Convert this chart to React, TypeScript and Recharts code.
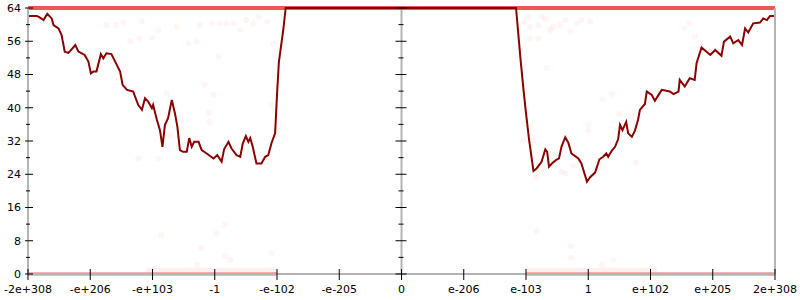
import React from 'react';
import { ComposedChart, Line, Scatter, XAxis, YAxis, ReferenceLine } from 'recharts';

// tick positions on the x axis (evenly spaced) and their labels
const xTicks = [-6, -5, -4, -3, -2, -1, 0, 1, 2, 3, 4, 5, 6];
const xLabels = ['-2e+308', '-e+206', '-e+103', '-1', '-e-102', '-e-205', '0', 'e-206', 'e-103', '1', 'e+102', 'e+205', '2e+308'];
const yTicks = [0, 4, 8, 12, 16, 20, 24, 28, 32, 36, 40, 44, 48, 52, 56, 60, 64];

// main curve
const curveX = [
  -6.0, -5.86, -5.82, -5.75, -5.69, -5.62, -5.59, -5.51, -5.46, -5.41, -5.35, -5.24, -5.19, -5.09, -5.03,
  -4.99, -4.95, -4.9, -4.83, -4.79, -4.74, -4.66, -4.6, -4.52, -4.48, -4.41, -4.31, -4.23, -4.17, -4.12,
  -4.07, -4.01, -3.99, -3.93, -3.88, -3.84, -3.8, -3.75, -3.69, -3.64, -3.6, -3.56, -3.51, -3.45, -3.41,
  -3.37, -3.33, -3.26, -3.21, -3.13, -3.02, -2.96, -2.89, -2.85, -2.78, -2.73, -2.65, -2.59, -2.55, -2.5,
  -2.46, -2.43, -2.39, -2.33, -2.25, -2.19, -2.14, -2.09, -2.03, -2.0, -1.97, -1.9, -1.86,
  1.84, 1.91, 1.96, 2.0, 2.05, 2.12, 2.17, 2.25, 2.31, 2.34, 2.37, 2.43, 2.48, 2.53, 2.57, 2.63, 2.68,
  2.73, 2.84, 2.89, 2.98, 3.03, 3.11, 3.18, 3.24, 3.29, 3.32, 3.38, 3.43, 3.48, 3.51, 3.55, 3.61, 3.64,
  3.7, 3.75, 3.8, 3.83, 3.91, 3.94, 4.02, 4.07, 4.13, 4.18, 4.31, 4.37, 4.45, 4.47, 4.55, 4.63, 4.71,
  4.74, 4.82, 4.9, 4.96, 5.04, 5.14, 5.18, 5.28, 5.33, 5.41, 5.47, 5.52, 5.57, 5.65, 5.76, 5.81, 5.87,
  5.92, 5.99,
];
const curveY = [
  62.1, 62.1, 61.8, 61.1, 62.6, 61.5, 59.9, 59.1, 57.5, 53.5, 53.2, 55.1, 53.5, 52.7, 51.1,
  48.3, 48.7, 48.7, 52.9, 51.9, 53.1, 52.9, 51.1, 48.7, 45.5, 44.3, 43.9, 40.7, 39.5, 42.3,
  41.5, 39.9, 40.7, 37.1, 34.6, 30.6, 35.9, 37.5, 41.9, 38.7, 35.4, 29.8, 29.4, 29.4, 32.7,
  30.6, 31.8, 31.8, 29.8, 29.0, 27.8, 28.6, 27.0, 30.0, 31.8, 30.2, 28.6, 28.2, 31.4, 33.2,
  31.8, 32.7, 30.6, 26.6, 26.6, 28.2, 28.6, 31.4, 33.9, 43.1, 51.0, 58.7, 64,
  64, 52.0, 44.3, 38.7, 32.2, 24.8, 25.4, 27.0, 30.0, 29.4, 25.8, 26.8, 27.4, 27.8, 30.6, 32.9, 31.6,
  29.0, 27.8, 26.6, 22.2, 23.3, 24.4, 27.6, 28.2, 29.0, 28.2, 29.7, 30.6, 32.4, 35.9, 34.6, 36.6, 33.9,
  33.0, 34.5, 37.1, 39.5, 40.9, 43.9, 43.1, 41.7, 43.1, 44.3, 43.9, 43.3, 43.9, 46.7, 45.1, 47.1, 46.7,
  50.7, 54.5, 53.5, 52.7, 53.9, 52.5, 55.9, 57.1, 55.5, 56.3, 55.1, 59.1, 58.1, 60.3, 60.5, 61.5, 61.1,
  62.1, 62.1,
];

// faint sample points
const dotsX = [
  -4.74, -4.58, -4.47, -4.36, -4.21, -4.17, -4.01, -3.91, -3.77, -3.61, -3.42, -3.29, -3.24, -3.16, -3.05,
  -3.02, -2.94, -2.92, -2.81, -2.7, -2.59, -2.49, -2.38, -2.3, -2.16, -2.06, -4.23, -3.08, -3.91, -3.71,
  -3.1, -2.09, 2.04, 1.98, 2.06, 2.2, 2.25, 2.31, 2.39, 2.44, 2.55, 2.63, 2.71, 2.81, 2.89, 3.03, 2.06,
  2.2, 2.33, 4.63, 4.55, 4.71, 1.96, 1.96, 2.1, 2.17, 2.28, 2.57, 2.63, 2.76, 3.0, 3.0, 3.23, 3.38, 3.5,
  3.7, 3.77, 2.17, 2.72, 2.73, 3.4, 3.22, -3.86, -3.22, -2.97, -2.84, -2.84, -2.75, -3.28, -2.09,
];
const dotsY = [
  59.9, 59.9, 60.5, 55.9, 56.7, 60.7, 56.7, 58.7, 43.5, 59.5, 55.5, 55.9, 59.9, 45.5, 60.3,
  43.1, 52.3, 60.3, 60.3, 60.3, 58.7, 61.1, 60.3, 61.9, 60.7, 55.5, 27.8, 36.6, 27.8, 33.4,
  38.8, 40.7, 61.9, 60.7, 59.5, 59.9, 61.9, 61.5, 58.7, 59.5, 59.9, 61.1, 58.3, 60.3, 61.1, 60.7, 56.7,
  56.7, 49.5, 60.3, 59.1, 57.1, 36.3, 32.2, 32.2, 23.4, 25.4, 24.6, 24.2, 26.0, 35.9, 34.5, 42.0, 43.3, 38.5,
  37.9, 26.8, 10.2, 6.7, 3.9, 3.4, 2.2, 9.4, 6.2, 9.8, 11.8, 4.3, 3.4, 2.2, 5.0,
];

// dense bands of samples at the extremes
const topBandX = [-6, 6];
const bottomLeftX = [-6, -2];
const bottomRightX = [2, 6];
// denser haze just above the bottom band
const hazeLeftX = [-4.1, -2];
const hazeRightX = [2, 4.1];

const curve = curveX.map((x, i) => ({ x, y: curveY[i] }));
const dots = dotsX.map((x, i) => ({ x, y: dotsY[i] }));
const topBand = topBandX.map((x) => ({ x, y: 64 }));
const bottomLeft = bottomLeftX.map((x) => ({ x, y: 0 }));
const bottomRight = bottomRightX.map((x) => ({ x, y: 0 }));
const hazeLeft = hazeLeftX.map((x) => ({ x, y: 0.9 }));
const hazeRight = hazeRightX.map((x) => ({ x, y: 0.9 }));
const midMajor = yTicks.filter((v) => v % 8 === 0).map((y) => ({ x: 0, y }));
const midMinor = yTicks.filter((v) => v % 8 !== 0).map((y) => ({ x: 0, y }));

const FONT = '"DejaVu Sans", sans-serif';
const AXIS = '#b4b4b4';

const XTick = (props: any) => {
  const { x, y, payload } = props;
  const label = xLabels[xTicks.indexOf(payload.value)];
  return (
    <g>
      <line x1={x} x2={x} y1={y - 5} y2={y + 6} stroke="#000" strokeWidth={1} />
      <text x={x} y={y + 19} textAnchor="middle" fontSize={11} fontFamily={FONT} fill="#000">
        {label}
      </text>
    </g>
  );
};

const LeftTick = (props: any) => {
  const { x, y, payload } = props;
  const major = payload.value % 8 === 0;
  return (
    <g>
      <line x1={major ? x - 3 : x - 2} x2={major ? x + 5 : x + 2} y1={y} y2={y} stroke="#000" strokeWidth={1} />
      {major && (
        <text x={x - 7} y={y} dy="0.36em" textAnchor="end" fontSize={11} fontFamily={FONT} fill="#000">
          {payload.value}
        </text>
      )}
    </g>
  );
};

const RightTick = (props: any) => {
  const { x, y, payload } = props;
  const major = payload.value % 8 === 0;
  return <line x1={major ? x - 5 : x - 3} x2={major ? x + 5 : x + 2} y1={y} y2={y} stroke="#000" strokeWidth={1} />;
};

const MidMajor = (props: any) => (
  <line x1={props.cx - 6} x2={props.cx + 5} y1={props.cy} y2={props.cy} stroke="#000" strokeWidth={1} />
);
const MidMinor = (props: any) => (
  <line x1={props.cx - 3} x2={props.cx + 2} y1={props.cy} y2={props.cy} stroke="#000" strokeWidth={1} />
);
const FaintDot = (props: any) => <circle cx={props.cx} cy={props.cy} r={3} fill="#ff2020" fillOpacity={0.045} />;

export default function App() {
  return (
    <div style={{ position: 'absolute', left: 0, top: 0, background: '#fff' }}>
      <ComposedChart width={800} height={300} margin={{ top: 8, right: 0, bottom: 0, left: 0 }}>
        <XAxis
          type="number"
          dataKey="x"
          domain={[-6, 6]}
          ticks={xTicks}
          interval={0}
          height={26}
          tickSize={0}
          tickMargin={0}
          tickLine={false}
          axisLine={{ stroke: AXIS, strokeWidth: 2 }}
          tick={XTick}
        />
        <YAxis
          type="number"
          dataKey="y"
          domain={[0, 64]}
          ticks={yTicks}
          interval={0}
          width={28}
          tickSize={0}
          tickMargin={0}
          tickLine={false}
          axisLine={{ stroke: AXIS, strokeWidth: 2 }}
          tick={LeftTick}
        />
        <YAxis
          yAxisId="r"
          orientation="right"
          type="number"
          domain={[0, 64]}
          ticks={yTicks}
          interval={0}
          width={25}
          tickSize={0}
          tickMargin={0}
          tickLine={false}
          axisLine={{ stroke: AXIS, strokeWidth: 2 }}
          tick={RightTick}
        />
        <ReferenceLine x={0} stroke={AXIS} strokeWidth={2} />
        <Scatter data={midMajor} shape={MidMajor} isAnimationActive={false} />
        <Scatter data={midMinor} shape={MidMinor} isAnimationActive={false} />
        <Scatter data={dots} shape={FaintDot} isAnimationActive={false} />
        <Line data={hazeLeft} dataKey="y" stroke="#ff3030" strokeWidth={5} strokeOpacity={0.08} dot={false} isAnimationActive={false} />
        <Line data={hazeRight} dataKey="y" stroke="#ff3030" strokeWidth={5} strokeOpacity={0.08} dot={false} isAnimationActive={false} />
        <Line data={topBand} dataKey="y" stroke="#ee2a2a" strokeWidth={4} strokeOpacity={0.8} dot={false} isAnimationActive={false} />
        <Line data={bottomLeft} dataKey="y" stroke="#ee2a2a" strokeWidth={3} strokeOpacity={0.7} dot={false} isAnimationActive={false} />
        <Line data={bottomRight} dataKey="y" stroke="#ee2a2a" strokeWidth={3} strokeOpacity={0.7} dot={false} isAnimationActive={false} />
        <Line data={curve} dataKey="y" stroke="#8b0000" strokeWidth={2} dot={false} isAnimationActive={false} />
      </ComposedChart>
    </div>
  );
}
